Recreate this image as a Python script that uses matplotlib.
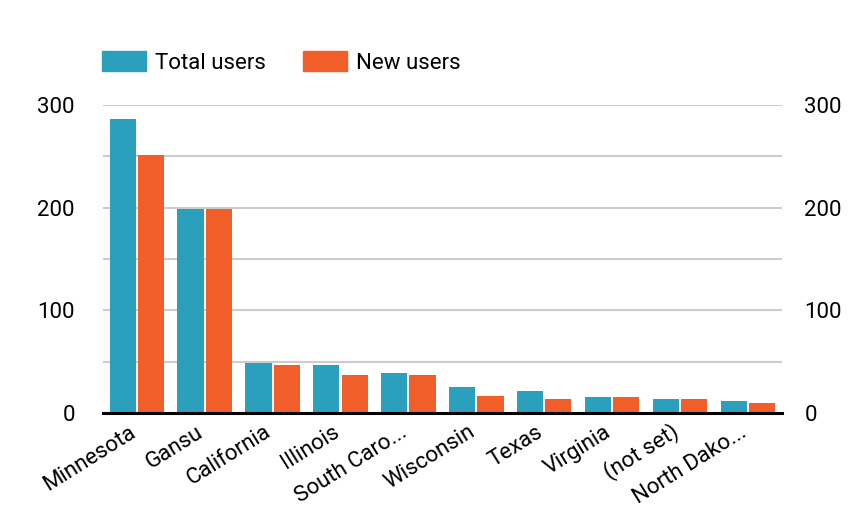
import matplotlib.pyplot as plt
from matplotlib.patches import Patch
import numpy as np

plt.rcParams['font.family'] = ['Roboto', 'DejaVu Sans']

regions = ["Minnesota", "Gansu", "California", "Illinois", "South Caro...",
           "Wisconsin", "Texas", "Virginia", "(not set)", "North Dako..."]
total_users = [287, 199, 49, 47, 39, 25, 21, 16, 14, 12]
new_users = [251, 199, 47, 37, 37, 17, 14, 16, 14, 10]

TEAL = "#2aa0bd"
ORANGE = "#f15e29"

fig = plt.figure(figsize=(8.56, 5.13), dpi=100)
ax = fig.add_axes([0.120, 0.195, 0.7936, 0.600])

x = np.arange(len(regions))
w = 0.385
ax.bar(x - w / 2 - 0.015, total_users, width=w, color=TEAL, zorder=3)
ax.bar(x + w / 2 + 0.015, new_users, width=w, color=ORANGE, zorder=3)

ax.set_xlim(-0.5, len(regions) - 0.5)
ax.set_ylim(0, 300)
ax.set_yticks([0, 100, 200, 300])
ax.set_yticks([50, 150, 250], minor=True)
ax.grid(axis="y", which="both", color="#cccccc", linewidth=1.5, zorder=0)
ax.tick_params(axis="y", which="both", length=0, labelsize=16, pad=20)
ax.tick_params(axis="x", length=0, labelsize=16, pad=16)
ax.set_xticks(x)
ax.set_xticklabels(regions, rotation=32, ha="right", va="baseline",
                   rotation_mode="anchor")

for s in ["top", "left", "right"]:
    ax.spines[s].set_visible(False)
ax.spines["bottom"].set_linewidth(2.2)
ax.spines["bottom"].set_color("black")
ax.spines["bottom"].set_zorder(4)

ax2 = ax.twinx()
ax2.set_ylim(0, 300)
ax2.set_yticks([0, 100, 200, 300])
ax2.tick_params(axis="y", length=0, labelsize=16, pad=16)
for s in ["top", "left", "right", "bottom"]:
    ax2.spines[s].set_visible(False)

handles = [Patch(color=TEAL, label="Total users"), Patch(color=ORANGE, label="New users")]
fig.legend(handles=handles, loc="upper left", bbox_to_anchor=(0.119, 0.900),
           ncol=2, frameon=False, fontsize=16, handlelength=1.98, handleheight=1.0,
           handletextpad=0.4, columnspacing=1.67, borderpad=0, borderaxespad=0)

fig.savefig("out.png", dpi=100)
